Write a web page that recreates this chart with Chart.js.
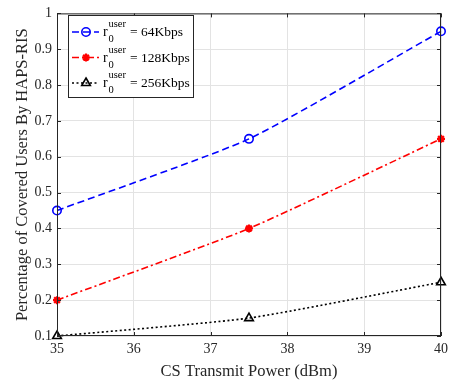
<!DOCTYPE html>
<html>
<head>
<meta charset="utf-8">
<script src="https://cdn.jsdelivr.net/npm/chart.js@4"></script>
<style>
  html, body { margin: 0; padding: 0; background: #fff; }
  #wrap { width: 453px; height: 388px; position: relative; }
</style>
</head>
<body>
<div id="wrap"><canvas id="chart" width="453" height="388"></canvas></div>
<script>
// Data
const powerDbm = [35, 37.5, 40];
const covered64 = [0.45, 0.65, 0.95];
const covered128 = [0.2, 0.4, 0.65];
const covered256 = [0.1, 0.15, 0.25];
const rateLabels = ['64Kbps', '128Kbps', '256Kbps'];

const AXIS_COLOR = '#262626';
const FONT = '"Liberation Serif", "Times New Roman", serif';

const seriesStyle = [
    { color: '#0000ff', dash: [7, 4], point: 'circle', radius: 4.2, pw: 1.6, fill: 'rgba(0,0,0,0)' },
    { color: '#ff0000', dash: [7, 3, 2, 3], point: 'star', radius: 4, pw: 2.2, fill: '#ff0000' },
    { color: '#000000', dash: [2, 2.5], point: 'triangle', radius: 5, pw: 1.6, fill: 'rgba(0,0,0,0)' }
];

function makeDataset(values, i) {
    const s = seriesStyle[i];
    return {
        label: rateLabels[i],
        data: powerDbm.map((x, k) => ({ x: x, y: values[k] })),
        borderColor: s.color,
        backgroundColor: s.fill,
        borderDash: s.dash,
        borderWidth: 1.6,
        pointStyle: s.point,
        pointRadius: s.radius,
        pointBorderColor: s.color,
        pointBackgroundColor: s.fill,
        pointBorderWidth: s.pw,
        tension: 0.18,
        clip: false
    };
}

// Box around plot area with inward ticks (MATLAB style)
const boxPlugin = {
    id: 'boxPlugin',
    afterDatasetsDraw(chart) {
        const { ctx, chartArea: a, scales } = chart;
        ctx.save();
        ctx.strokeStyle = AXIS_COLOR;
        ctx.lineWidth = 1;
        ctx.setLineDash([]);
        ctx.strokeRect(a.left + 0.5, a.top + 0.5, a.right - a.left - 1, a.bottom - a.top - 1);
        const len = 4;
        ctx.beginPath();
        scales.x.ticks.forEach(t => {
            const px = Math.round(scales.x.getPixelForValue(t.value)) + 0.5;
            ctx.moveTo(px, a.bottom); ctx.lineTo(px, a.bottom - len);
            ctx.moveTo(px, a.top); ctx.lineTo(px, a.top + len);
        });
        scales.y.ticks.forEach(t => {
            const py = Math.round(scales.y.getPixelForValue(t.value)) + 0.5;
            ctx.moveTo(a.left, py); ctx.lineTo(a.left + len, py);
            ctx.moveTo(a.right, py); ctx.lineTo(a.right - len, py);
        });
        ctx.stroke();
        ctx.restore();
    }
};

// Legend with r_0^user labels
const legendPlugin = {
    id: 'customLegend',
    afterDraw(chart) {
        const ctx = chart.ctx;
        const box = { x: 68, y: 15, w: 125, h: 82 };
        ctx.save();
        ctx.fillStyle = '#fff';
        ctx.fillRect(box.x, box.y, box.w, box.h);
        ctx.strokeStyle = AXIS_COLOR;
        ctx.lineWidth = 1;
        ctx.strokeRect(box.x + 0.5, box.y + 0.5, box.w, box.h);
        chart.data.datasets.forEach((ds, i) => {
            const s = seriesStyle[i];
            const cy = box.y + 17 + i * 25.5;
            ctx.strokeStyle = s.color;
            ctx.lineWidth = 1.6;
            ctx.setLineDash(s.dash);
            ctx.beginPath();
            ctx.moveTo(box.x + 4, cy);
            ctx.lineTo(box.x + 31, cy);
            ctx.stroke();
            ctx.setLineDash([]);
            ctx.fillStyle = s.fill;
            ctx.lineWidth = s.pw;
            Chart.helpers.drawPoint(ctx, { pointStyle: s.point, radius: s.radius, borderWidth: s.pw }, box.x + 18, cy);
            // text
            ctx.fillStyle = '#000';
            ctx.textBaseline = 'alphabetic';
            ctx.font = '14px ' + FONT;
            const tx = box.x + 35;
            ctx.fillText('r', tx, cy + 4);
            ctx.font = '10.5px ' + FONT;
            ctx.fillText('user', tx + 5.5, cy - 5);
            ctx.fillText('0', tx + 5.5, cy + 10);
            ctx.font = '13.5px ' + FONT;
            ctx.fillText('= ' + rateLabels[i], tx + 27, cy + 4);
        });
        ctx.restore();
    }
};

new Chart(document.getElementById('chart').getContext('2d'), {
    type: 'line',
    data: {
        datasets: [
            makeDataset(covered64, 0),
            makeDataset(covered128, 1),
            makeDataset(covered256, 2)
        ]
    },
    options: {
        responsive: false,
        animation: false,
        layout: { padding: { top: 5, right: 9, left: 0, bottom: 0 } },
        plugins: {
            legend: { display: false },
            tooltip: { enabled: false }
        },
        scales: {
            x: {
                type: 'linear',
                min: 35,
                max: 40,
                ticks: { stepSize: 1, color: AXIS_COLOR, font: { family: FONT, size: 14 }, padding: 5 },
                grid: { color: '#e3e3e3', drawTicks: false },
                border: { display: false },
                title: { display: true, text: 'CS Transmit Power (dBm)', color: AXIS_COLOR, font: { family: FONT, size: 16.5 }, padding: { top: 4, bottom: 6 } },
                afterFit(scale) { scale.height = 52; }
            },
            y: {
                min: 0.1,
                max: 1,
                ticks: {
                    stepSize: 0.1,
                    color: AXIS_COLOR,
                    font: { family: FONT, size: 14 },
                    padding: 5,
                    callback: v => {
                        const t = v.toFixed(1);
                        return t === '1.0' ? '1' : t;
                    }
                },
                grid: { color: '#e3e3e3', drawTicks: false },
                border: { display: false },
                title: { display: true, text: 'Percentage of Covered Users By HAPS-RIS', color: AXIS_COLOR, font: { family: FONT, size: 16.5 }, padding: { top: 13, bottom: 2 } },
                afterFit(scale) { scale.width = 57; }
            }
        }
    },
    plugins: [boxPlugin, legendPlugin]
});
</script>
</body>
</html>
